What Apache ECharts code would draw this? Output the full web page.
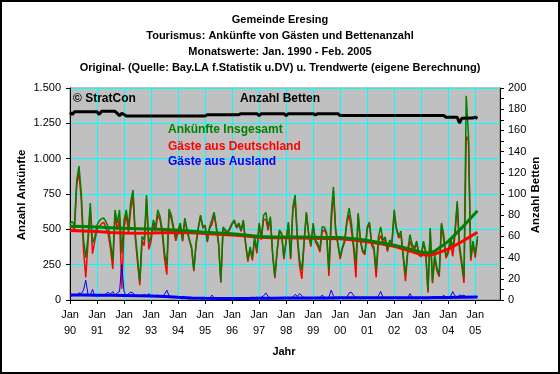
<!DOCTYPE html>
<html><head><meta charset="utf-8">
<script src="https://cdn.jsdelivr.net/npm/echarts@6/dist/echarts.min.js"></script>
<style>html,body{margin:0;padding:0;background:#fff}#c{width:560px;height:374px}</style>
</head><body><div id="c"></div>
<script>
// ---- categories ----
const years = [1990,1991,1992,1993,1994,1995,1996,1997,1998,1999,2000,2001,2002,2003,2004,2005];
const monthNums = ['01','02','03','04','05','06','07','08','09','10','11','12'];
const months = [];
years.forEach(y => monthNums.forEach(m => months.push(y + '-' + m)));

const titleLines = [
  'Gemeinde Eresing',
  'Tourismus: Ankünfte von Gästen und Bettenanzahl',
  'Monatswerte: Jan. 1990 - Feb. 2005',
  'Original- (Quelle: Bay.LA f.Statistik u.DV) u. Trendwerte (eigene Berechnung)'
];

// ---- monthly values Jan 1990 .. Feb 2005 ----
const insgesamt = [
  540,555,530,850,948,757,425,300,446,686,403,446,
  530,560,575,580,552,517,403,280,637,545,637,330,
  566,637,517,700,778,470,300,130,450,424,743,403,
  446,566,517,637,590,495,330,250,644,601,517,439,
  495,545,424,580,500,430,375,212,403,517,601,517,
  530,420,517,566,622,517,403,130,517,495,481,510,
  545,566,517,545,495,566,403,283,375,300,446,350,
  545,446,600,620,517,590,332,165,354,495,474,300,
  424,552,300,658,743,450,283,212,420,622,474,389,
  545,424,403,354,517,517,474,212,600,800,500,403,
  304,375,424,566,651,545,389,262,615,424,354,332,
  517,552,403,375,212,446,517,424,446,354,424,410,
  639,509,453,488,320,179,347,462,391,368,417,330,
  320,417,347,64,509,134,320,226,179,545,462,311,
  347,439,368,488,700,391,276,156,1445,1160,297,417,
  320,453
];
const deutschland = [
  515,525,490,820,898,712,355,160,406,651,328,416,
  500,520,540,550,507,462,363,220,602,495,577,80,
  506,607,472,645,728,440,265,105,420,384,713,358,
  416,541,487,602,565,465,290,180,614,576,497,419,
  480,533,414,568,490,422,365,204,393,505,591,509,
  522,410,505,531,607,507,395,122,507,487,473,500,
  537,556,509,533,485,558,393,271,360,280,431,330,
  530,426,570,570,492,575,320,155,339,483,464,288,
  412,537,288,638,703,425,238,150,405,610,459,377,
  530,412,383,339,482,497,459,170,530,770,485,391,
  289,363,409,546,601,490,359,160,600,412,339,320,
  502,540,388,355,160,416,457,404,431,342,409,398,
  600,497,438,460,300,134,332,417,371,356,402,318,
  305,405,332,52,489,119,295,206,164,533,427,296,
  332,414,308,458,680,356,246,121,1160,1130,277,397,
  300,428
];
const ausland = [
  25,30,40,30,50,45,70,140,40,35,75,30,
  30,40,35,30,45,55,40,60,35,50,60,250,
  60,30,45,55,50,30,35,25,30,40,30,45,
  30,25,30,35,25,30,40,70,30,25,20,20,
  15,12,10,12,10,8,10,8,10,12,10,8,
  8,10,12,35,15,10,8,8,10,8,8,10,
  8,10,8,12,10,8,10,12,15,20,15,20,
  15,20,30,50,25,15,12,10,15,12,10,12,
  12,15,12,20,40,25,45,30,15,12,15,12,
  15,12,20,15,35,20,15,20,70,30,15,12,
  15,12,15,20,50,55,30,20,15,12,15,12,
  15,12,15,20,15,30,60,20,15,12,15,12,
  15,12,15,15,20,12,15,45,20,12,15,12,
  15,12,15,12,20,15,25,20,15,12,35,15,
  20,25,60,30,20,35,30,35,20,15,25,20,
  20,25
];

// ---- trend values (read at these months) ----
const trendMonths = ['1990-01','1990-07','1991-01','1991-07','1992-01','1992-07','1993-01','1993-07',
  '1994-01','1994-07','1995-01','1995-07','1996-01','1996-07','1997-01','1997-07','1998-01','1998-07',
  '1999-01','1999-07','2000-01','2000-07','2001-01','2001-07','2002-01','2002-07','2003-01','2003-04',
  '2003-07','2004-01','2004-07','2005-02'];
const trendInsgesamt = [522,520,516,512,508,505,502,498,494,487,480,474,468,460,450,446,445,445,
  444,443,442,434,422,405,388,365,338,333,345,415,510,632];
const trendDeutschland = [492,489,484,478,474,473,474,476,478,476,470,465,460,453,444,441,440,438,
  437,436,433,424,412,397,380,352,322,316,325,360,412,480];
const trendAusland = [35,35,34,33,32,30,28,24,19,15,12,11,11,11,12,13,14,14,
  15,15,16,16,16,16,16,16,16,16,17,18,20,22];

// ---- Betten (right axis) ----
const bettenMonths = ['1990-01','1990-02','1990-03','1991-01','1991-02','1991-03','1991-09','1991-10',
  '1991-11','1991-12','1992-01','1992-02','1995-01','1995-02','1996-04','1996-05','1996-12','1997-01',
  '1997-02','1997-12','1998-01','1998-02','1999-01','1999-02','1999-03','1999-12','2000-01','2003-11',
  '2003-12','2004-05','2004-06','2004-07','2004-12','2005-01','2005-02'];
const bettenValues = [177,175,177.6,177.6,175,178,178,176,174,176,175,173.6,173.6,174.8,174.8,175.8,175.8,174,
  175.8,175.8,174,175.8,175.8,174.5,175.8,175.8,174,174,172.4,172.4,167,171.4,171.6,172.5,171.4];

const FONT = '"Liberation Sans", Arial, sans-serif';
const pairs = (ms, vs) => ms.map((m, i) => [m, vs[i]]);
const deNum = v => v >= 1000 ? Math.floor(v / 1000) + '.' + String(v % 1000).padStart(3, '0') : String(v);
const isJan = i => i % 12 === 0;

const chart = echarts.init(document.getElementById('c'), null, {renderer: 'canvas'});
const lineS = (name, data, color, width, yIdx) => ({
  name, type: 'line', data, yAxisIndex: yIdx || 0, symbol: 'none', silent: true,
  lineStyle: {color, width}, itemStyle: {color}
});

chart.setOption({
  animation: false,
  backgroundColor: '#ffffff',
  title: {
    text: titleLines.join('\n'), left: 'center', top: 12, padding: 0,
    textStyle: {fontFamily: FONT, fontSize: 11, fontWeight: 'bold', lineHeight: 16, color: '#000'}
  },
  grid: {left: 70, right: 60, top: 88, bottom: 74, show: true,
    backgroundColor: '#c0c0c0', borderColor: '#808080', borderWidth: 1},
  xAxis: {
    type: 'category', data: months, boundaryGap: false,
    axisLine: {lineStyle: {color: '#000', width: 1}},
    axisTick: {interval: isJan, length: 4, lineStyle: {color: '#000'}},
    axisLabel: {interval: isJan, formatter: v => 'Jan\n' + v.slice(2, 4),
      fontFamily: FONT, fontSize: 11, lineHeight: 16, color: '#000', margin: 7},
    splitLine: {show: true, interval: isJan, lineStyle: {color: '#00ffff', width: 1}}
  },
  yAxis: [{
    type: 'value', min: 0, max: 1500, interval: 250,
    axisLine: {show: true, lineStyle: {color: '#000'}},
    axisTick: {show: true, length: 4, lineStyle: {color: '#000'}},
    axisLabel: {formatter: deNum, fontFamily: FONT, fontSize: 11, color: '#000', margin: 9},
    splitLine: {show: true, lineStyle: {color: '#00ffff', width: 1}}
  }, {
    type: 'value', min: 0, max: 200, interval: 20, position: 'right',
    axisLine: {show: true, lineStyle: {color: '#000'}},
    axisTick: {show: true, length: 4, lineStyle: {color: '#000'}},
    minorTick: {show: true, splitNumber: 2, length: 4, lineStyle: {color: '#000'}},
    axisLabel: {fontFamily: FONT, fontSize: 11, color: '#000', margin: 8},
    splitLine: {show: false}
  }],
  series: [
    lineS('Gäste aus Deutschland', deutschland, '#ff0000', 1.5),
    lineS('Ankünfte Insgesamt', insgesamt, '#008000', 1.5),
    lineS('Gäste aus Ausland', ausland, '#0000ff', 1),
    lineS('Trend Deutschland', pairs(trendMonths, trendDeutschland), '#ff0000', 3),
    lineS('Trend Insgesamt', pairs(trendMonths, trendInsgesamt), '#008000', 3),
    lineS('Trend Ausland', pairs(trendMonths, trendAusland), '#0000ff', 3),
    lineS('Anzahl Betten', pairs(bettenMonths, bettenValues), '#000000', 3, 1)
  ],
  graphic: [
    {type: 'text', x: 73, y: 99, z: 100, style: {text: '© StratCon', font: 'bold 12px ' + FONT, fill: '#000', textAlign: 'left', textVerticalAlign: 'middle'}},
    {type: 'text', x: 240, y: 99, z: 100, style: {text: 'Anzahl Betten', font: 'bold 12px ' + FONT, fill: '#000', textAlign: 'left', textVerticalAlign: 'middle'}},
    {type: 'text', x: 168, y: 130, z: 100, style: {text: 'Ankünfte Insgesamt', font: 'bold 12px ' + FONT, fill: '#008000', textAlign: 'left', textVerticalAlign: 'middle'}},
    {type: 'text', x: 168, y: 147, z: 100, style: {text: 'Gäste aus Deutschland', font: 'bold 12px ' + FONT, fill: '#ff0000', textAlign: 'left', textVerticalAlign: 'middle'}},
    {type: 'text', x: 168, y: 162, z: 100, style: {text: 'Gäste aus Ausland', font: 'bold 12px ' + FONT, fill: '#0000ff', textAlign: 'left', textVerticalAlign: 'middle'}},
    {type: 'text', x: 22, y: 195, rotation: Math.PI / 2, z: 100, style: {text: 'Anzahl Ankünfte', font: 'bold 11.5px ' + FONT, fill: '#000', textAlign: 'center', textVerticalAlign: 'middle'}},
    {type: 'text', x: 536, y: 195, rotation: Math.PI / 2, z: 100, style: {text: 'Anzahl Betten', font: 'bold 11.5px ' + FONT, fill: '#000', textAlign: 'center', textVerticalAlign: 'middle'}},
    {type: 'text', x: 284, y: 352, z: 100, style: {text: 'Jahr', font: 'bold 11px ' + FONT, fill: '#000', textAlign: 'center', textVerticalAlign: 'middle'}},
    {type: 'rect', z: 100, shape: {x: 1, y: 1, width: 558, height: 372}, style: {fill: 'none', stroke: '#000', lineWidth: 2}}
  ]
});
</script></body></html>
